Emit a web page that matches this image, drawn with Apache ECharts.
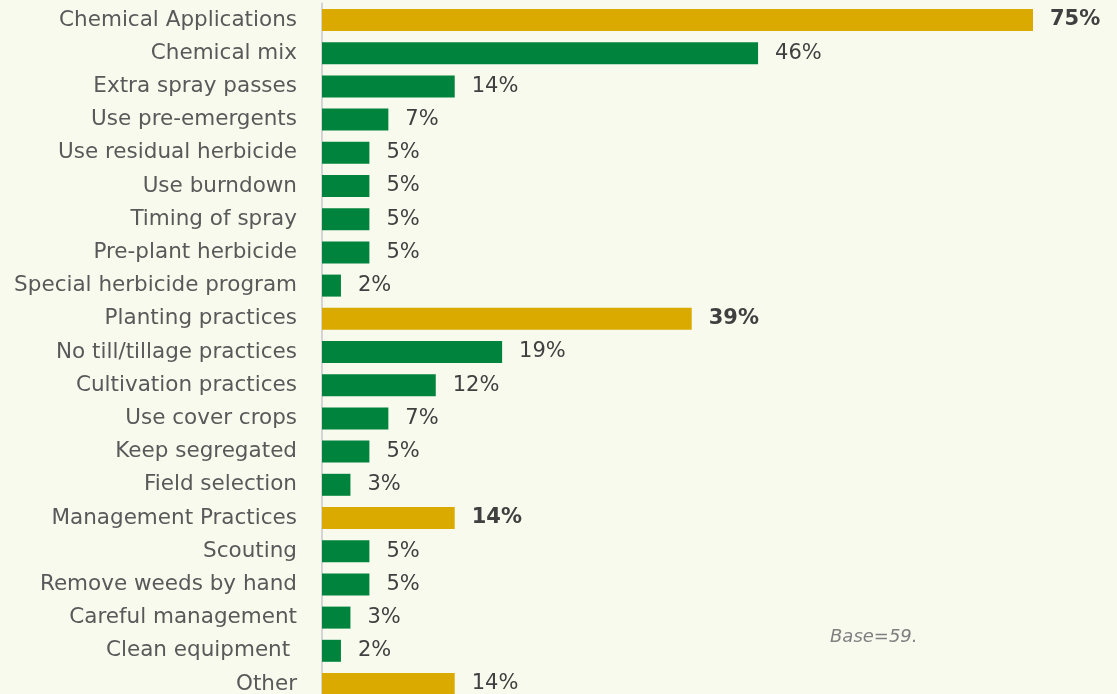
<!DOCTYPE html>
<html>
<head>
<meta charset="utf-8">
<script src="https://cdn.jsdelivr.net/npm/echarts@6/dist/echarts.min.js"></script>
<style>
  html, body { margin: 0; padding: 0; background: #F8FAEE; overflow: hidden; }
  /* the last row runs slightly past the bottom edge of the page */
  #chart { width: 1117px; height: 701px; }
</style>
</head>
<body>
<div id="chart"></div>
<script>
// Weed-control practices, share of respondents (%)
const categories = [
  'Chemical Applications', 'Chemical mix', 'Extra spray passes', 'Use pre-emergents',
  'Use residual herbicide', 'Use burndown', 'Timing of spray', 'Pre-plant herbicide',
  'Special herbicide program', 'Planting practices', 'No till/tillage practices',
  'Cultivation practices', 'Use cover crops', 'Keep segregated', 'Field selection',
  'Management Practices', 'Scouting', 'Remove weeds by hand', 'Careful management',
  'Clean equipment ', 'Other'
];
const values = [75, 46, 14, 7, 5, 5, 5, 5, 2, 39, 19, 12, 7, 5, 3, 14, 5, 5, 3, 2, 14];
// Group totals are drawn gold; the three group headings also get bold value labels
const goldRows = ['Chemical Applications', 'Planting practices', 'Management Practices', 'Other'];
const boldRows = ['Chemical Applications', 'Planting practices', 'Management Practices'];
const baseNote = 'Base=59.';

const GOLD = '#DAAA00';
const GREEN = '#00843D';
const FONT = '"DejaVu Sans", "Open Sans", sans-serif';

const chart = echarts.init(document.getElementById('chart'));

const barData = values.map((v, i) => ({
  value: v,
  itemStyle: { color: goldRows.includes(categories[i]) ? GOLD : GREEN },
  label: { fontWeight: boldRows.includes(categories[i]) ? 'bold' : 'normal' }
}));

chart.setOption({
  backgroundColor: '#F8FAEE',
  animation: false,
  grid: { left: 322, width: 711, top: 3.4, height: 697.2, containLabel: false },
  xAxis: {
    type: 'value', min: 0, max: 75,
    show: false
  },
  yAxis: {
    type: 'category',
    data: categories,
    inverse: true,
    axisLine: { show: true, lineStyle: { color: '#D4D4D4', width: 2 } },
    axisTick: { show: false },
    axisLabel: {
      margin: 25,
      color: '#595959',
      fontSize: 21.5,
      fontFamily: FONT
    }
  },
  series: [{
    type: 'bar',
    data: barData,
    barWidth: 22,
    label: {
      show: true,
      position: 'right',
      distance: 17,
      formatter: '{c}%',
      color: '#404040',
      fontSize: 21,
      fontFamily: FONT
    }
  }],
  graphic: [{
    type: 'text',
    left: 830,
    top: 628,
    style: {
      text: baseNote,
      fill: '#7F7F7F',
      font: 'italic 18px ' + FONT
    }
  }]
});
</script>
</body>
</html>
